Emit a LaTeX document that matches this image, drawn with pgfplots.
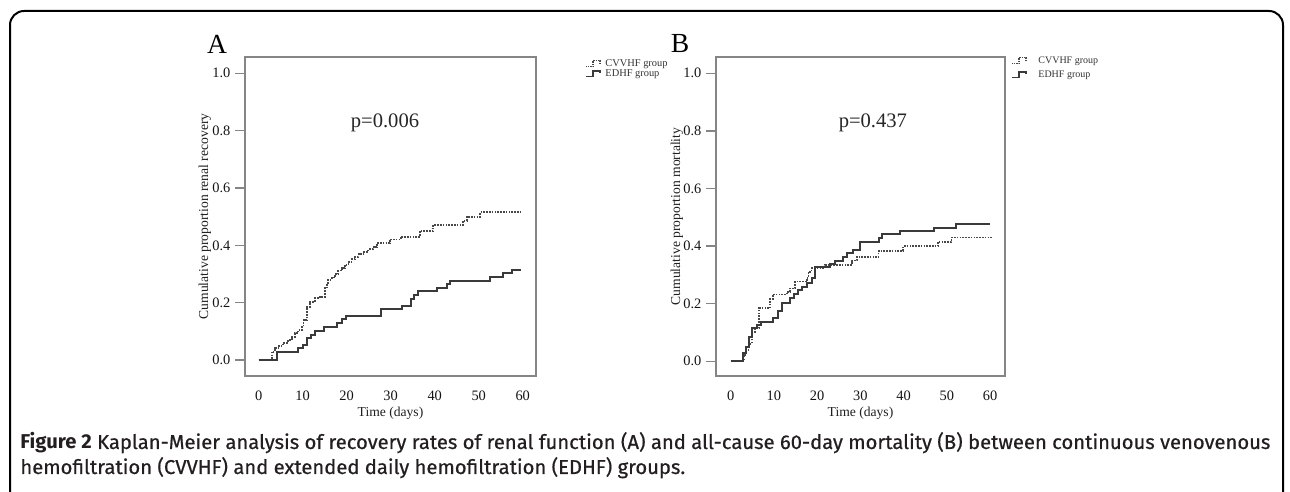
\documentclass[border=0pt]{standalone}
\usepackage{fontspec}
\setmainfont{Liberation Serif}
\newfontfamily\capfont{Fira Sans}[UprightFeatures={FakeBold=0.6}]
\usepackage{pgfplots}
\pgfplotsset{compat=1.18}
\usepackage{graphicx}

\definecolor{boxgray}{HTML}{858585}
\definecolor{curve}{HTML}{3A3A3A}
\definecolor{dotc}{HTML}{484848}
\definecolor{captext}{HTML}{231F20}

\pgfplotsset{
  kmbase/.style={
    scale only axis, anchor=south west, height=159.5pt,
    axis line style={boxgray, line width=0.7pt},
    tick style={boxgray, line width=0.7pt},
    tick align=outside, major tick length=5pt,
    ytick pos=left, xtick pos=bottom,
    x tick style={draw=none},
    ytick={0,0.2,0.4,0.6,0.8,1.0},
    yticklabels={0.0,0.2,0.4,0.6,0.8,1.0},
    xtick={0,10,20,30,40,50,60},
    xticklabels={0,10,20,30,40,50,60},
    ticklabel style={font=\fontsize{7.2}{8}\selectfont, text=black!92},
    xticklabel style={yshift=1.2pt},
    yticklabel style={xshift=1.2pt},
    label style={font=\fontsize{6.8}{8}\selectfont, text=black!88},
    xlabel={Time (days)},
    xlabel style={at={(axis description cs:0.5,-0.116)}, anchor=center},
  },
  cv/.style={const plot, dotc, line width=0.9pt, dash pattern=on 0.8pt off 0.6pt},
  ed/.style={const plot, curve, line width=1pt},
}

% legend step symbol
\newcommand\stepsym[3]{% x, y, style
  \draw[#3] (#1,#2-1.3) -- (#1+3.5,#2-1.3) -- (#1+3.5,#2+1.6) -- (#1+7,#2+1.6) -- (#1+7,#2+0.4);}

\begin{document}
\begin{tikzpicture}[x=1pt,y=1pt]
\path[use as bounding box] (0,0) rectangle (645,246);
\draw[line width=1pt, rounded corners=7pt] (5,-3) -- (5,240.5) -- (641.5,240.5) -- (641.5,-3);

% panel A
\begin{axis}[kmbase, at={(122.5pt,58pt)}, width=145.5pt,
  xmin=-3.11, xmax=63.02, ymin=-0.0558, ymax=1.0569,
  ylabel={Cumulative proportion renal recovery},
  ylabel style={at={(axis description cs:-0.1375,0.5)}, anchor=center},
]
\addplot[cv] coordinates {
(0,0) (2.95,0.029) (3.7,0.041) (4.5,0.05) (5.6,0.06) (6.7,0.07) (7.5,0.081)
(8.3,0.093) (9.0,0.105) (9.8,0.116) (10.2,0.14) (10.9,0.186) (11.7,0.203)
(12.8,0.215) (13.9,0.221) (15.1,0.25) (15.5,0.262) (15.8,0.279) (16.6,0.288)
(17.3,0.3) (18.1,0.312) (18.9,0.32) (19.6,0.331) (20.4,0.343) (21.1,0.351)
(21.9,0.36) (22.7,0.369) (23.8,0.378) (24.9,0.386) (26.1,0.395) (26.8,0.407)
(29.8,0.42) (32.3,0.43) (36.7,0.451) (39.7,0.471) (46.5,0.486) (47.3,0.5)
(50.3,0.515) (59.5,0.515)};
\addplot[ed] coordinates {
(0,0) (4.1,0.027) (9.0,0.041) (10.0,0.052) (10.9,0.076) (11.8,0.088)
(12.8,0.101) (14.8,0.116) (17.7,0.128) (18.9,0.142) (19.8,0.153)
(27.7,0.177) (32.5,0.19) (34.6,0.212) (35.3,0.227) (36.2,0.241)
(40.6,0.252) (42.7,0.264) (43.5,0.277) (52.6,0.29) (55.6,0.302)
(57.5,0.314) (59.5,0.314)};
\node[font=\fontsize{10.3}{12}\selectfont, text=black!85] at (axis cs:28.7,0.827) {p=0.006};
\end{axis}

% panel B
\begin{axis}[kmbase, at={(358pt,58pt)}, width=144.5pt,
  xmin=-3.40, xmax=63.47, ymin=-0.051, ymax=1.0566,
  ylabel={Cumulative proportion mortality},
  ylabel style={at={(axis description cs:-0.135,0.5)}, anchor=center},
]
\addplot[cv] coordinates {
(0,0) (3.0,0.022) (3.6,0.035) (4.1,0.06) (4.9,0.103) (5.6,0.115) (6.6,0.184)
(9.1,0.215) (9.7,0.232) (13.0,0.242) (13.7,0.253) (14.9,0.277) (17.6,0.29)
(18.0,0.311) (18.7,0.323) (21.8,0.334) (28.0,0.35) (29.2,0.363) (34.2,0.384)
(39.9,0.40) (48.0,0.415) (51.1,0.43) (60.4,0.43)};
\addplot[ed] coordinates {
(0,0) (2.9,0.028) (3.5,0.051) (4.3,0.085) (5.0,0.115) (6.0,0.126) (6.9,0.138)
(9.9,0.149) (11.0,0.176) (11.8,0.201) (13.7,0.219) (14.6,0.233) (15.6,0.247)
(16.6,0.258) (17.7,0.272) (18.7,0.29) (19.5,0.326) (23.0,0.337) (24.1,0.349)
(26.0,0.363) (27.0,0.377) (28.2,0.388) (29.9,0.415) (34.2,0.427) (35.0,0.441)
(39.2,0.452) (47.0,0.464) (52.1,0.477) (60.0,0.477)};
\node[font=\fontsize{10.3}{12}\selectfont, text=black!85] at (axis cs:32.9,0.827) {p=0.437};
\end{axis}

% legends
\stepsym{293}{214}{dotc, line width=0.6pt, dash pattern=on 0.6pt off 0.5pt}
\stepsym{293}{209}{curve, line width=0.8pt}
\node[anchor=west, inner sep=0pt, font=\fontsize{5.2}{6}\selectfont, text=black!80] at (302.5,214) {CVVHF group};
\node[anchor=west, inner sep=0pt, font=\fontsize{5.2}{6}\selectfont, text=black!80] at (302.5,209) {EDHF group};
\stepsym{506}{215.5}{dotc, line width=0.6pt, dash pattern=on 0.6pt off 0.5pt}
\stepsym{506}{208.5}{curve, line width=0.8pt}
\node[anchor=west, inner sep=0pt, font=\fontsize{5}{6}\selectfont, text=black!80] at (519,215.5) {CVVHF group};
\node[anchor=west, inner sep=0pt, font=\fontsize{5}{6}\selectfont, text=black!80] at (519,208.5) {EDHF group};

\node[font=\fontsize{13.8}{16}\selectfont] at (108.5,224) {A};
\node[font=\fontsize{13.8}{16}\selectfont] at (340,224) {B};

% caption
\node[anchor=base west, inner sep=0pt, text=captext] at (10,21.5) {%
  \sbox0{\capfont\fontsize{10}{12}\selectfont\textbf{Figure 2} Kaplan-Meier analysis of recovery rates of renal function (A) and all-cause 60-day mortality (B) between continuous venovenous}%
  \pgfmathsetmacro\capsx{625/\wd0}%
  \scalebox{\capsx}[1]{\usebox0}};
\node[anchor=base west, inner sep=0pt, text=captext] at (10,9) {%
  \sbox0{\capfont\fontsize{10}{12}\selectfont\textbf{Figure 2} Kaplan-Meier analysis of recovery rates of renal function (A) and all-cause 60-day mortality (B) between continuous venovenous}%
  \pgfmathsetmacro\capsx{625/\wd0}%
  \scalebox{\capsx}[1]{\capfont\fontsize{10}{12}\selectfont hemofiltration (CVVHF) and extended daily hemofiltration (EDHF) groups.}};
\end{tikzpicture}
\end{document}
